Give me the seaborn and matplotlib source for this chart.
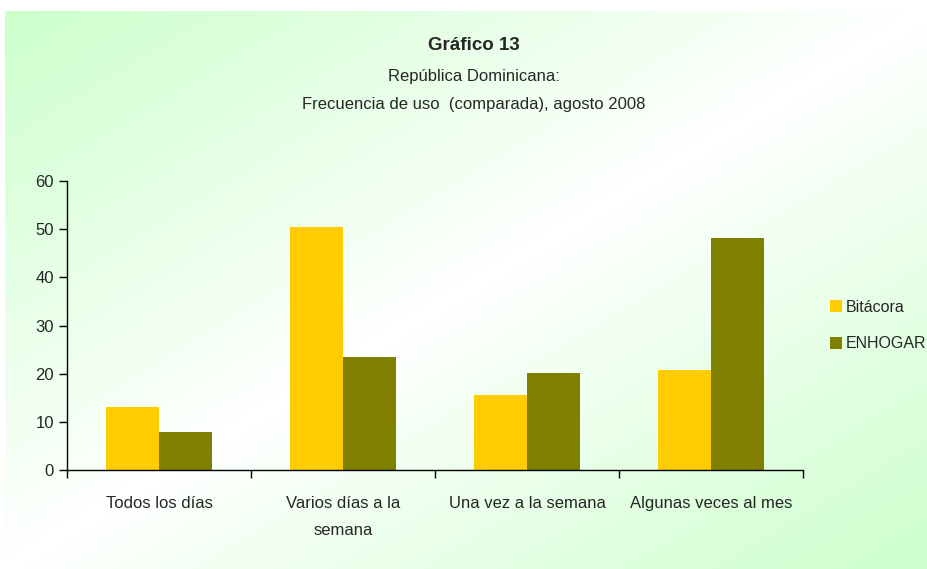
import numpy as np
import pandas as pd
import matplotlib
matplotlib.use("Agg")
import matplotlib.pyplot as plt
import seaborn as sns

categorias = ["Todos los días", "Varios días a la\nsemana", "Una vez a la semana", "Algunas veces al mes"]
bitacora = [13.1, 50.4, 15.6, 20.8]
enhogar = [7.9, 23.5, 20.1, 48.2]
series = ["Bitácora", "ENHOGAR"]
colores = ["#FFCC00", "#808000"]

df = pd.DataFrame({
    "categoria": categorias * 2,
    "valor": bitacora + enhogar,
    "serie": [series[0]] * 4 + [series[1]] * 4,
})

sns.set_theme(style="white")
plt.rcParams["font.family"] = ["Liberation Sans", "DejaVu Sans"]

fig = plt.figure(figsize=(9.27, 5.69), dpi=100)
fig.patch.set_facecolor("white")

# fondo degradado diagonal (verde - blanco - verde)
bg = fig.add_axes([5 / 927, 0, 922 / 927, 558 / 569], zorder=0)
h, w = 300, 500
yy, xx = np.mgrid[0:h, 0:w]
t = (xx / (w - 1) + yy / (h - 1)) / 2
s = np.abs(2 * t - 1)
verde = np.array([204, 255, 204]) / 255
img = 1 - s[..., None] * (1 - verde)
bg.imshow(img, aspect="auto", extent=[0, 1, 0, 1], origin="upper")
bg.axis("off")

ax = fig.add_axes([67 / 927, 1 - 470 / 569, (803 - 67) / 927, (470 - 181) / 569], zorder=1)
ax.patch.set_alpha(0)
sns.barplot(data=df, x="categoria", y="valor", hue="serie", palette=colores,
            width=0.576, saturation=1, linewidth=0, edgecolor="none", ax=ax)

ax.set_ylim(0, 60)
ax.set_xlim(-0.5, 3.5)
ax.set_yticks(range(0, 61, 10))
ax.set_xlabel("")
ax.set_ylabel("")
for s_ in ["top", "right"]:
    ax.spines[s_].set_visible(False)
for s_ in ["left", "bottom"]:
    ax.spines[s_].set_color("black")
    ax.spines[s_].set_linewidth(1)

# ticks del eje x en los limites de las categorias
ax.set_xticks([-0.5, 0.5, 1.5, 2.5, 3.5], minor=False)
ax.set_xticklabels([])
ax.set_xticks(range(4), minor=True)
ax.set_xticklabels(categorias, minor=True, fontsize=12)
ax.tick_params(axis="x", which="major", direction="out", length=6, width=1, color="black", bottom=True)
ax.tick_params(axis="x", which="minor", length=0, pad=19)
ax.tick_params(axis="y", direction="out", length=6, width=1, color="black", left=True, labelsize=12)
for lab in ax.get_xticklabels(minor=True):
    lab.set_linespacing(2.0)

leg = ax.legend(loc="center left", bbox_to_anchor=(1.017, 0.5), frameon=False,
                fontsize=11.5, handlelength=0.75, handleheight=0.75, handletextpad=0.25,
                labelspacing=1.35)

fig.text(474 / 927, 1 - 45 / 569, "Gráfico 13", ha="center", va="center",
         fontsize=13.5, fontweight="bold")
fig.text(474 / 927, 1 - 76 / 569, "República Dominicana:", ha="center", va="center", fontsize=12)
fig.text(474 / 927, 1 - 104 / 569, "Frecuencia de uso  (comparada), agosto 2008",
         ha="center", va="center", fontsize=12)

fig.savefig("out.png", dpi=100)
